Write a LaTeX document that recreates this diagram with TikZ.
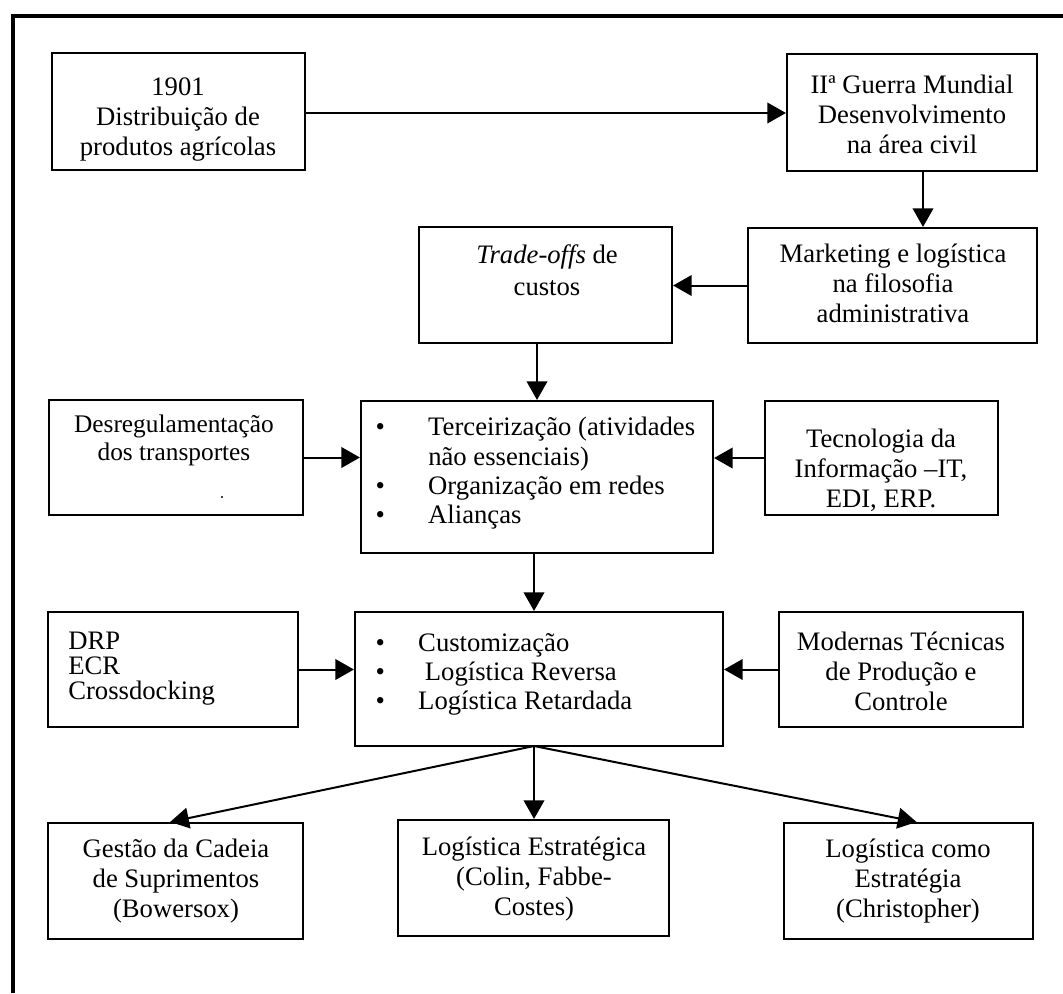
\documentclass[tikz,border=0pt]{standalone}
\usepackage{fontspec}
\setmainfont{Liberation Serif}
\usetikzlibrary{arrows.meta,fit}
% list bullet in a box of fixed width
\newcommand{\lbul}[1]{\makebox[#1][l]{\hspace*{1pt}\textbullet}}
\begin{document}
\begin{tikzpicture}[x=0.75pt,y=-0.75pt,
  box/.style={draw, line width=1.6pt, inner sep=0pt},
  txt/.style={inner sep=0pt, align=center, anchor=north,
              font=\fontsize{20}{22.5}\selectfont},
  lst/.style={inner sep=0pt, align=left, anchor=north west},
  arr/.style={line width=1.5pt, -{Triangle[length=14pt,width=15.5pt]}},
]
\useasboundingbox (0,0) rectangle (1063,993);
% outer frame (open to the right and the bottom)
\draw[line width=2.8pt] (13,993) -- (13,16) -- (1063,16);

% boxes
\node[box, fit={(52,53) (305,170)}]   (A) {};
\node[box, fit={(787,54) (1037,171)}] (B) {};
\node[box, fit={(748,228) (1037,343)}] (C) {};
\node[box, fit={(419,227) (672,343)}] (D) {};
\node[box, fit={(49,400) (303,515)}]  (E) {};
\node[box, fit={(361,401) (713,553)}] (F) {};
\node[box, fit={(765,401) (998,515)}] (G) {};
\node[box, fit={(48,612) (298,727)}]  (H) {};
\node[box, fit={(355,612) (723,746)}] (I) {};
\node[box, fit={(779,612) (1023,727)}] (J) {};
\node[box, fit={(48,823) (303,939)}]  (K) {};
\node[box, fit={(398,820) (669,936)}] (L) {};
\node[box, fit={(784,823) (1033,939)}] (M) {};

% texts
\node[txt] (At) at (178,77) {1901\\Distribuição de\\produtos agrícolas};
\node[txt] (Bt) at (912,75) {IIª Guerra Mundial\\Desenvolvimento\\na área civil};
\node[txt] (Ct) at (893,244) {Marketing e logística\\na filosofia\\administrativa};
\node[txt, font=\fontsize{20}{24}\selectfont] (Dt) at (547,244)
  {\textit{Trade-offs} de\\custos};
\node[txt, font=\fontsize{19}{21}\selectfont] (Et) at (174,415)
  {Desregulamentação\\dos transportes};
\fill (222,497) circle (0.9pt);
\node[lst, font=\fontsize{20}{22}\selectfont] (Ft) at (374,417)
  {\lbul{40.5pt}Terceirização (atividades\\
   \hspace*{40.5pt}não essenciais)\\
   \lbul{40.5pt}Organização em redes\\
   \lbul{40.5pt}Alianças};
\node[txt] (Gt) at (881,429) {Tecnologia da\\Informação –IT,\\EDI, ERP.};
\node[lst, font=\fontsize{20}{18.75}\selectfont] (Ht) at (68,632)
  {DRP\\ECR\\Crossdocking};
\node[lst, font=\fontsize{20}{22}\selectfont] (It) at (374,633)
  {\lbul{33pt}Customização\\
   \lbul{33pt}\ Logística Reversa\\
   \lbul{33pt}Logística Retardada};
\node[txt] (Jt) at (901,632) {Modernas Técnicas\\de Produção e\\Controle};
\node[txt] (Kt) at (176,839) {Gestão da Cadeia\\de Suprimentos\\(Bowersox)};
\node[txt] (Lt) at (534,837) {Logística Estratégica\\(Colin, Fabbe-\\Costes)};
\node[txt] (Mt) at (908,839) {Logística como\\Estratégia\\(Christopher)};

% connectors
\coordinate (fork) at (534,746);
\draw[arr] (A.east |- 0,113) -- (B.west |- 0,113);
\draw[arr] ([xshift=8.25pt]B.south) -- ([xshift=8.25pt]B.south |- C.north);
\draw[arr] (C.west) -- (C.west -| D.east);
\draw[arr] (D.south -| F.north) -- (F.north);
\draw[arr] (E.east) -- (E.east -| F.west);
\draw[arr] (G.west) -- (G.west -| F.east);
\draw[arr] (F.south -| fork) -- (I.north -| fork);
\draw[arr] (H.east) -- (H.east -| I.west);
\draw[arr] (J.west) -- (J.west -| I.east);
\draw[arr] (fork) -- ([xshift=-4pt]K.north);
\draw[arr] (fork) -- (L.north -| fork);
\draw[arr] (fork) -- ([xshift=6pt]M.north);
\end{tikzpicture}
\end{document}
